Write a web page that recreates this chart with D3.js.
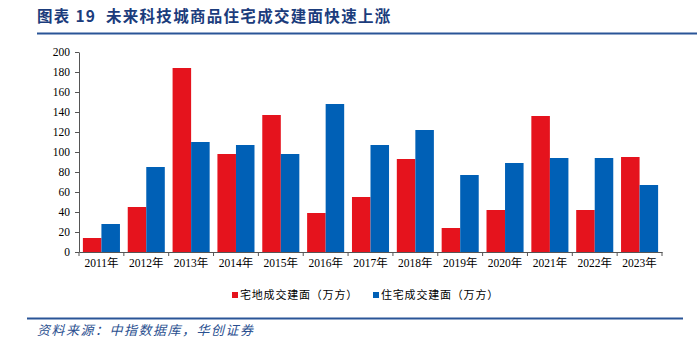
<!DOCTYPE html>
<html><head><meta charset="utf-8">
<script src="https://cdn.jsdelivr.net/npm/d3@7"></script>
<style>body{margin:0;background:#fff}svg{display:block}</style>
</head><body>
<script>
const categories = ["2011年","2012年","2013年","2014年","2015年","2016年","2017年","2018年","2019年","2020年","2021年","2022年","2023年"];
const landArea = [14, 45, 184, 98, 137, 39, 55, 93, 24, 42, 136, 42, 95];
const houseArea = [28, 85, 110, 107, 98, 148, 107, 122, 77, 89, 94, 94, 67];
const seriesNames = ["宅地成交建面（万方）","住宅成交建面（万方）"];
const yTicks = [0,20,40,60,80,100,120,140,160,180,200];
const colors = ["#e5131d","#0060b6"];

const W=697,H=339;
const svg=d3.select("body").append("svg").attr("width",W).attr("height",H);
const m={l:79,r:662,t:52,b:252};
const x=d3.scaleBand().domain(categories).range([m.l,m.r]).paddingInner(0).paddingOuter(0);
const x1=d3.scaleBand().domain([0,1]).range([0,x.bandwidth()]).paddingInner(0).paddingOuter(0.21);
const y=d3.scaleLinear().domain([0,200]).range([m.b,m.t]);

// title
svg.append("text").attr("x",37).attr("y",22).attr("fill","#1b3c7c")
  .attr("font-family","'Noto Sans CJK SC',sans-serif").attr("font-weight","bold").attr("font-size",15.5)
  .attr("letter-spacing",1.3).attr("xml:space","preserve")
  .text("图表 19  未来科技城商品住宅成交建面快速上涨");
svg.append("line").attr("x1",37).attr("x2",697).attr("y1",33.5).attr("y2",33.5).attr("stroke","#2a5597").attr("stroke-width",2);

// bars
const data=[landArea,houseArea];
data.forEach((vals,si)=>{
  svg.append("g").selectAll("rect").data(vals).join("rect")
    .attr("x",(d,i)=>x(categories[i])+x1(si))
    .attr("y",d=>y(d)).attr("width",x1.bandwidth()).attr("height",d=>y(0)-y(d))
    .attr("fill",colors[si]);
});

// y axis
const ya=svg.append("g").attr("transform",`translate(${m.l},0)`)
  .call(d3.axisLeft(y).tickValues(yTicks).tickSize(4).tickSizeOuter(0));
ya.select(".domain").attr("stroke","#555");
ya.selectAll(".tick line").attr("stroke","#555");
ya.selectAll("text").attr("font-family","'Liberation Serif',serif").attr("font-size",11.5).attr("fill","#000").attr("dx",-2);

// x axis
const xa=svg.append("g").attr("transform",`translate(0,${m.b})`)
  .call(d3.axisBottom(x).tickSize(0).tickSizeOuter(0));
xa.select(".domain").attr("stroke","#555");
xa.selectAll("text").attr("font-family","'Liberation Serif','Noto Sans CJK SC',serif").attr("font-size",11.5).attr("fill","#000").attr("dy","1.05em");
const bounds=categories.map(c=>x(c)).concat([m.r]);
svg.append("g").selectAll("line").data(bounds).join("line")
  .attr("x1",d=>d).attr("x2",d=>d).attr("y1",m.b).attr("y2",m.b+4).attr("stroke","#555");

// legend
const lg=[{x:232,t:seriesNames[0],c:colors[0]},{x:373,t:seriesNames[1],c:colors[1]}];
lg.forEach(l=>{
  svg.append("rect").attr("x",l.x).attr("y",292).attr("width",6).attr("height",6).attr("fill",l.c);
  svg.append("text").attr("x",l.x+8).attr("y",299).attr("font-family","'Noto Sans CJK SC',sans-serif").attr("font-size",11).attr("letter-spacing",0.8).attr("fill","#000").text(l.t);
});

// footer
svg.append("line").attr("x1",27).attr("x2",683).attr("y1",318.5).attr("y2",318.5).attr("stroke","#2a5597").attr("stroke-width",2);
svg.append("text").attr("x",37).attr("y",335).attr("fill","#2a4f8f")
  .attr("font-family","'Noto Sans CJK SC',sans-serif").attr("font-size",13).attr("font-style","italic").attr("letter-spacing",1.5)
  .text("资料来源：中指数据库，华创证券");
</script>
</body></html>
